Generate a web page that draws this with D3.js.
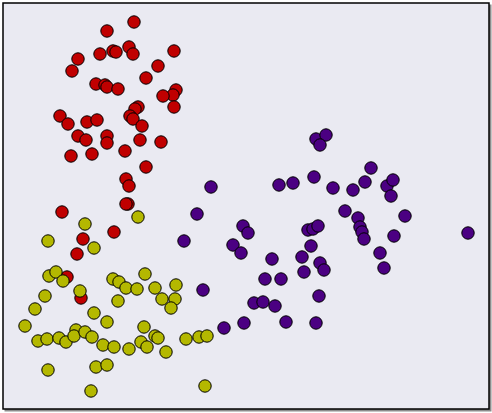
<!DOCTYPE html>
<html>
<head>
<meta charset="utf-8">
<script src="https://cdn.jsdelivr.net/npm/d3@7"></script>
<style>
  html, body { margin: 0; padding: 0; background: #ffffff; }
  svg { display: block; }
</style>
</head>
<body>
<div id="chart"></div>
<script>
// three clusters, values are [x, y] in plot units (y pointing up)
const redPoints = [
  [131, 387], [104, 378], [75, 350], [69, 338], [97, 355], [110, 358], [113, 357], [126, 362],
  [130, 355], [171, 358], [155, 343], [143, 331], [93, 325], [102, 324], [104, 322], [115, 320],
  [173, 319], [170, 314], [160, 313], [171, 302], [135, 302], [132, 300], [127, 293], [130, 290],
  [139, 283], [57, 293], [65, 285], [84, 287], [94, 289], [75, 273], [83, 269], [104, 273],
  [104, 266], [137, 269], [158, 267], [68, 253], [89, 255], [122, 258], [143, 242], [123, 230],
  [126, 223], [125, 205], [123, 205], [59, 197], [111, 177], [80, 170], [74, 155], [64, 132],
  [78, 111],
];

const olivePoints = [
  [135, 192], [82, 185], [45, 168], [91, 161], [46, 133], [53, 137], [60, 128], [110, 130],
  [116, 127], [123, 121], [134, 120], [142, 135], [152, 121], [173, 124], [159, 110], [172, 110],
  [168, 101], [77, 118], [42, 113], [115, 108], [32, 100], [91, 96], [104, 87], [22, 83],
  [141, 82], [35, 68], [44, 70], [56, 71], [63, 67], [73, 79], [71, 73], [82, 77],
  [89, 72], [100, 64], [111, 62], [126, 60], [138, 67], [144, 62], [152, 73], [155, 71],
  [163, 57], [183, 70], [196, 72], [204, 73], [45, 39], [93, 42], [104, 44], [88, 18],
  [202, 23],
];

const purplePoints = [
  [194, 195], [181, 168], [240, 183], [245, 176], [230, 164], [238, 156], [200, 119], [221, 81],
  [241, 86], [313, 270], [323, 274], [317, 264], [368, 241], [362, 227], [384, 223], [390, 229],
  [388, 213], [350, 219], [330, 221], [311, 232], [290, 226], [276, 224], [208, 222], [342, 198],
  [355, 191], [357, 182], [359, 177], [361, 170], [402, 193], [465, 176], [391, 173], [377, 156],
  [381, 141], [305, 179], [310, 180], [315, 183], [308, 163], [299, 152], [317, 146], [321, 139],
  [301, 137], [269, 150], [262, 130], [278, 130], [316, 113], [251, 106], [260, 107], [272, 103],
  [283, 87], [313, 86],
];

const xDomain = [0, 486];
const yDomain = [0, 406];

const width = 492;
const height = 413;
const plot = { left: 3, top: 3, right: 489, bottom: 409 };

const svg = d3.select('#chart').append('svg').attr('width', width).attr('height', height);

// shadow + frame
svg
  .append('rect')
  .attr('x', plot.left + 1.5)
  .attr('y', plot.top + 1.5)
  .attr('width', plot.right - plot.left + 1)
  .attr('height', plot.bottom - plot.top + 1)
  .attr('fill', '#8c8c8c');

svg
  .append('rect')
  .attr('x', plot.left)
  .attr('y', plot.top)
  .attr('width', plot.right - plot.left)
  .attr('height', plot.bottom - plot.top)
  .attr('fill', '#eaeaf2')
  .attr('stroke', '#000')
  .attr('stroke-width', 1.5);

const x = d3.scaleLinear().domain(xDomain).range([plot.left, plot.right]);
const y = d3.scaleLinear().domain(yDomain).range([plot.bottom, plot.top]);

const groups = [
  { data: redPoints, color: '#c00000' },
  { data: purplePoints, color: '#4b0082' },
  { data: olivePoints, color: '#b4b800' },
];

const container = svg.append('g');

groups.forEach((g) => {
  container
    .append('g')
    .selectAll('circle')
    .data(g.data)
    .join('circle')
    .attr('cx', (d) => x(d[0]))
    .attr('cy', (d) => y(d[1]))
    .attr('r', 6.2)
    .attr('fill', g.color)
    .attr('stroke', '#000')
    .attr('stroke-width', 1);
});
</script>
</body>
</html>
